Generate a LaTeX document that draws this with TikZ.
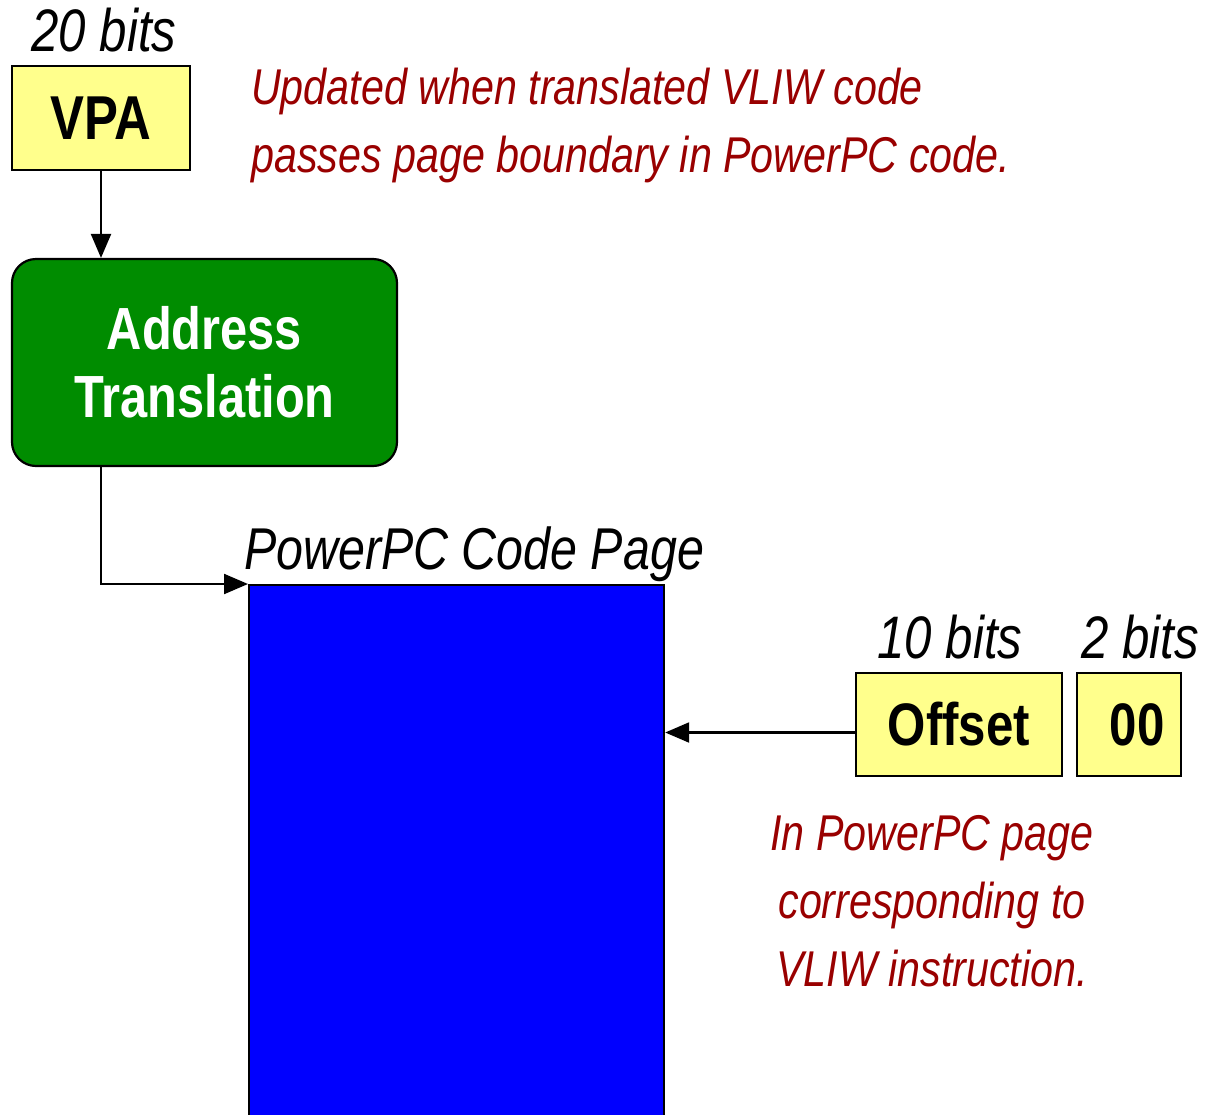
\documentclass[tikz,border=0pt]{standalone}
\usepackage{fontspec}
\setmainfont[FakeStretch=0.82]{Liberation Sans}
\usetikzlibrary{arrows.meta}
\definecolor{boxyellow}{HTML}{FFFF8C}
\definecolor{atgreen}{HTML}{008C00}
\definecolor{notered}{HTML}{990000}
\begin{document}
\begin{tikzpicture}[x=1pt,y=-1pt,
  ybox/.style={draw=black,line width=2.2pt,fill=boxyellow,inner sep=0pt,font=\fontsize{60}{66}\selectfont\bfseries},
  bitlabel/.style={font=\fontsize{60}{66}\selectfont\itshape,inner sep=0pt},
  note/.style={font=\fontsize{50.3}{68}\selectfont\itshape,text=notered,inner sep=0pt},
  conn/.style={line width=2.2pt,-{Triangle[length=24pt,width=20pt]}}]
\useasboundingbox (0,0) rectangle (1205,1114);
\clip (0,0) rectangle (1205,1114);
% nodes
\node[ybox,minimum width=178pt,minimum height=104pt,font=\fontsize{62}{66}\selectfont\bfseries] (vpa) at (101,118) {VPA};
\node[bitlabel,anchor=base] (vpabits) at (104,51) {20 bits};
\node[draw=black,line width=2.2pt,fill=atgreen,rounded corners=24pt,minimum width=385pt,minimum height=207pt,
  text=white,align=center,font=\fontsize{59.5}{68}\selectfont\bfseries] (at) at (204.5,362.5) {Address\\Translation};
\node[draw=black,line width=2.2pt,fill=blue,anchor=north west,minimum width=415pt,minimum height=560pt,inner sep=0pt] (page) at (248,584) {};
\node[bitlabel,anchor=base west,font=\fontsize{59}{66}\selectfont\itshape] (pagelbl) at (244,569) {PowerPC Code Page};
\node[ybox,minimum width=206pt,minimum height=103pt] (off) at (959,724.5) {Offset};
\node[ybox,minimum width=104pt,minimum height=103pt] (zz) at (1129,724.5) {\hspace*{16pt}00};
\node[bitlabel,anchor=base] (offbits) at (950,658) {10 bits};
\node[bitlabel,anchor=base] (zzbits) at (1140,658) {2 bits};
\node[note,anchor=base west,align=left] (note1) at (251,172) {Updated when translated VLIW code\\passes page boundary in PowerPC code.};
\node[note,anchor=base,align=center] (note2) at (932,986) {In PowerPC page\\corresponding to\\VLIW instruction.};
% connectors
\coordinate (offout) at ([yshift=-8pt]off.west);
\draw[conn] (vpa.south) -- (vpa.south |- at.north);
\draw[conn] (at.south -| vpa.south) |- (page.north west);
\draw[conn] (offout) -- (offout -| page.east);
\end{tikzpicture}
\end{document}
